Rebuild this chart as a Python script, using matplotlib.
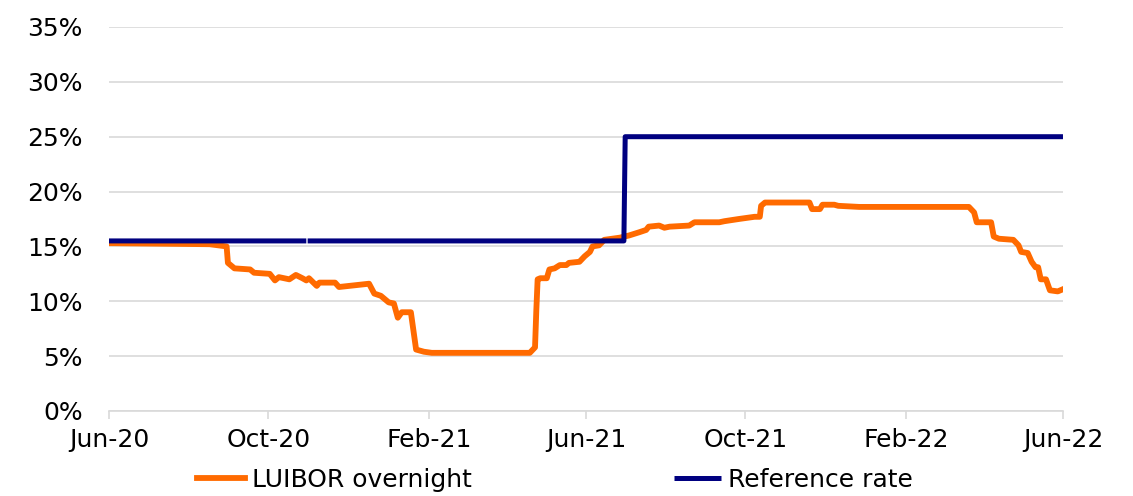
import numpy as np
import pandas as pd
import matplotlib
matplotlib.use("Agg")
import matplotlib.pyplot as plt
import matplotlib.dates as mdates

# LUIBOR overnight (percent)
luibor_dates = [
    "2020-06-01", "2020-08-17", "2020-08-30", "2020-08-31", "2020-09-05",
    "2020-09-17", "2020-09-20", "2020-10-02", "2020-10-06", "2020-10-09",
    "2020-10-17", "2020-10-22", "2020-10-27", "2020-10-30", "2020-11-01",
    "2020-11-07", "2020-11-09", "2020-11-21", "2020-11-24", "2020-12-17",
    "2020-12-21", "2020-12-26", "2021-01-01", "2021-01-05", "2021-01-08",
    "2021-01-11", "2021-01-18", "2021-01-22", "2021-01-28", "2021-02-03",
    "2021-04-19", "2021-04-23", "2021-04-24", "2021-04-25", "2021-04-27",
    "2021-05-02", "2021-05-04", "2021-05-08", "2021-05-12", "2021-05-17",
    "2021-05-19", "2021-05-27", "2021-05-31", "2021-06-04", "2021-06-06",
    "2021-06-11", "2021-06-15", "2021-06-27", "2021-07-04", "2021-07-12",
    "2021-07-17", "2021-07-19", "2021-07-27", "2021-07-31", "2021-08-04",
    "2021-08-19", "2021-08-23", "2021-09-11", "2021-09-15", "2021-09-26",
    "2021-10-08", "2021-10-12", "2021-10-13", "2021-10-16", "2021-11-19",
    "2021-11-21", "2021-11-27", "2021-11-29", "2021-12-08", "2021-12-11",
    "2021-12-27", "2022-03-21", "2022-03-25", "2022-03-27", "2022-04-07",
    "2022-04-09", "2022-04-13", "2022-04-24", "2022-04-28", "2022-04-30",
    "2022-05-05", "2022-05-08", "2022-05-11", "2022-05-13", "2022-05-15",
    "2022-05-19", "2022-05-22", "2022-05-28", "2022-06-01",
]
luibor_values = [
    15.3, 15.2, 15.0, 13.5, 13.0,
    12.9, 12.6, 12.5, 11.9, 12.2,
    12.0, 12.4, 12.1, 11.9, 12.1,
    11.4, 11.7, 11.7, 11.3, 11.6,
    10.7, 10.5, 9.9, 9.8, 8.5,
    9.0, 9.0, 5.6, 5.4, 5.3,
    5.3, 5.8, 9.2, 12.0, 12.1,
    12.1, 12.9, 13.0, 13.3, 13.3,
    13.5, 13.6, 14.1, 14.5, 15.0,
    15.1, 15.6, 15.8, 16.0, 16.3,
    16.5, 16.8, 16.9, 16.7, 16.8,
    16.9, 17.2, 17.2, 17.3, 17.5,
    17.7, 17.7, 18.7, 19.0, 19.0,
    18.4, 18.4, 18.8, 18.8, 18.7,
    18.6, 18.6, 18.1, 17.2, 17.2,
    15.9, 15.7, 15.6, 15.1, 14.5,
    14.4, 13.6, 13.1, 13.1, 12.0,
    12.0, 11.0, 10.9, 11.1,
]

# Reference rate (percent), one missing observation gives the small gap
ref_dates = ["2020-06-01", "2020-10-30", "2020-10-30 12:00", "2020-10-31",
             "2021-06-30", "2021-07-01", "2022-06-01"]
ref_values = [15.5, 15.5, np.nan, 15.5, 15.5, 25.0, 25.0]

y_ticks = [0, 5, 10, 15, 20, 25, 30, 35]
x_ticks = ["2020-06-01", "2020-10-01", "2021-02-01", "2021-06-01",
           "2021-10-01", "2022-02-01", "2022-06-01"]

fig = plt.figure(figsize=(11.33, 4.96), dpi=100)
ax = fig.add_axes([0.0962, 0.1714, 0.842, 0.7742])

ax.plot(pd.to_datetime(luibor_dates), luibor_values, color="#FF6A00",
        lw=4.2, solid_joinstyle="round", label="LUIBOR overnight", zorder=2)
ax.plot(pd.to_datetime(ref_dates, format="ISO8601"), ref_values,
        color="#000080", lw=3.6, solid_capstyle="butt",
        label="Reference rate", zorder=3)

ax.set_ylim(0, 35)
ax.set_xlim(pd.Timestamp("2020-06-01"), pd.Timestamp("2022-06-01"))
ax.set_yticks(y_ticks)
ax.set_yticklabels([f"{v}%" for v in y_ticks])
ax.set_xticks(pd.to_datetime(x_ticks))
ax.xaxis.set_major_formatter(mdates.DateFormatter("%b-%y"))

ax.grid(axis="y", color="#D9D9D9", lw=1.2)
ax.set_axisbelow(True)
for side in ["top", "right", "left"]:
    ax.spines[side].set_visible(False)
ax.spines["bottom"].set_color("#D9D9D9")
ax.spines["bottom"].set_linewidth(1.2)
ax.tick_params(axis="y", length=0, pad=19, labelsize=18)
ax.tick_params(axis="x", length=6, color="#D9D9D9", width=1.2, pad=6,
               labelsize=18)

fig.legend(loc="center", bbox_to_anchor=(0.49, 0.032), ncol=2,
           frameon=False, fontsize=18, handlelength=1.9,
           handletextpad=0.28, columnspacing=8.1)

fig.savefig("out.png", dpi=100)
